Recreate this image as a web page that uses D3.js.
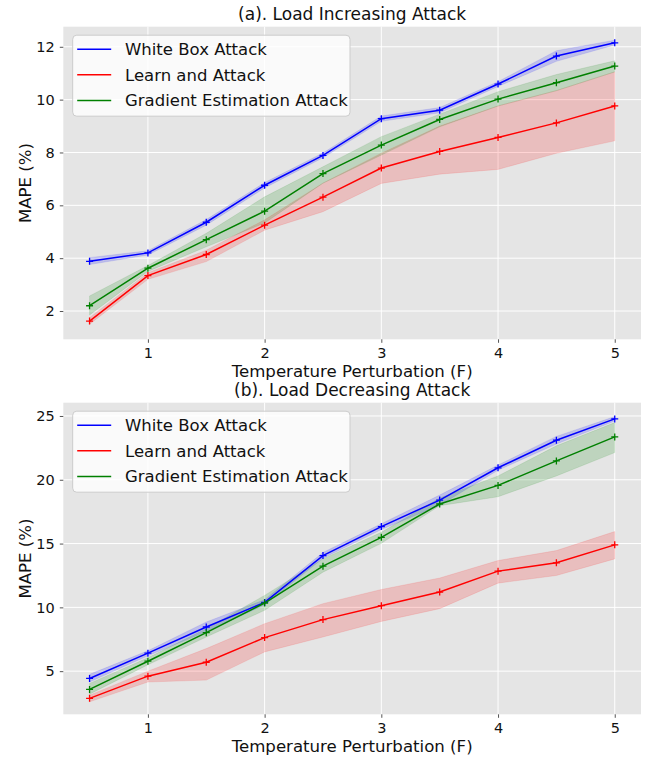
<!DOCTYPE html>
<html><head><meta charset="utf-8">
<script src="https://cdn.jsdelivr.net/npm/d3@7"></script>
<style>body{margin:0;background:#fff}svg{display:block}text{font-family:"DejaVu Sans",sans-serif}</style>
</head><body>
<svg id="c" width="657" height="761"></svg>
<script>
const xs = [0.5, 1, 1.5, 2, 2.5, 3, 3.5, 4, 4.5, 5];
const xTicks = [1, 2, 3, 4, 5];
const seriesNames = ["White Box Attack", "Learn and Attack", "Gradient Estimation Attack"];

// (a) Load Increasing Attack
const wbA    = [3.88, 4.20, 5.36, 6.76, 7.89, 9.28, 9.60, 10.59, 11.65, 12.15];
const wbA_lo = [3.76, 4.12, 5.25, 6.66, 7.80, 9.18, 9.50, 10.50, 11.45, 12.07];
const wbA_hi = [4.02, 4.28, 5.46, 6.86, 7.98, 9.38, 9.70, 10.68, 11.85, 12.25];
const laA    = [1.62, 3.34, 4.14, 5.25, 6.31, 7.41, 8.04, 8.57, 9.12, 9.76];
const laA_lo = [1.50, 3.20, 3.87, 5.06, 5.76, 6.83, 7.18, 7.36, 7.97, 8.44];
const laA_hi = [1.75, 3.45, 4.30, 5.45, 6.84, 7.97, 9.00, 9.76, 10.34, 11.05];
const geA    = [2.20, 3.62, 4.70, 5.78, 7.20, 8.28, 9.25, 10.02, 10.64, 11.27];
const geA_lo = [1.85, 3.50, 4.43, 5.33, 6.84, 7.90, 8.97, 9.76, 10.34, 11.05];
const geA_hi = [2.57, 3.72, 4.94, 6.32, 7.46, 8.60, 9.45, 10.30, 10.95, 11.47];
const yTicksA = [2, 4, 6, 8, 10, 12];

// (b) Load Decreasing Attack
const wbB    = [4.43, 6.41, 8.46, 10.39, 14.06, 16.33, 18.41, 20.94, 23.10, 24.77];
const wbB_lo = [4.15, 6.20, 8.10, 10.20, 13.85, 16.10, 18.00, 20.75, 22.80, 24.60];
const wbB_hi = [4.75, 6.60, 8.85, 10.60, 14.30, 16.55, 18.80, 21.15, 23.40, 24.95];
const laB    = [2.87, 4.61, 5.70, 7.63, 9.04, 10.13, 11.20, 12.84, 13.49, 14.90];
const laB_lo = [2.60, 4.15, 4.30, 6.51, 7.68, 8.90, 9.90, 11.90, 12.50, 13.80];
const laB_hi = [3.12, 5.00, 6.77, 8.72, 10.29, 11.40, 12.30, 13.67, 14.45, 15.94];
const geB    = [3.57, 5.78, 8.02, 10.34, 13.23, 15.49, 18.10, 19.56, 21.48, 23.36];
const geB_lo = [3.20, 5.50, 7.68, 9.77, 12.76, 15.02, 17.97, 18.67, 20.30, 22.13];
const geB_hi = [4.04, 6.05, 8.33, 10.94, 13.80, 15.88, 18.57, 20.30, 22.66, 24.48];
const yTicksB = [5, 10, 15, 20, 25];

const colors = ["#0000ff", "#ff0000", "#008000"];
const svg = d3.select("#c");

function panel(cfg) {
  const L = 63.3, R = 641;
  const x = d3.scaleLinear().domain([0.275, 5.225]).range([L, R]);
  const y = d3.scaleLinear().domain(cfg.ydom).range([cfg.bottom, cfg.top]);
  const g = svg.append("g");
  g.append("rect").attr("x", L).attr("y", cfg.top).attr("width", R - L).attr("height", cfg.bottom - cfg.top).attr("fill", "#e5e5e5");
  // grid
  g.selectAll(".gx").data(xTicks).join("line").attr("x1", d => x(d)).attr("x2", d => x(d))
    .attr("y1", cfg.top).attr("y2", cfg.bottom).attr("stroke", "#fff").attr("stroke-width", 1);
  g.selectAll(".gy").data(cfg.yTicks).join("line").attr("y1", d => y(d)).attr("y2", d => y(d))
    .attr("x1", L).attr("x2", R).attr("stroke", "#fff").attr("stroke-width", 1);
  // axes
  const ax = g.append("g").attr("transform", `translate(0,${cfg.bottom})`)
    .call(d3.axisBottom(x).tickValues(xTicks).tickFormat(d3.format("d")).tickSize(3.5).tickPadding(4.5));
  const ay = g.append("g").attr("transform", `translate(${L},0)`)
    .call(d3.axisLeft(y).tickValues(cfg.yTicks).tickFormat(d3.format("d")).tickSize(3.5).tickPadding(5));
  [ax, ay].forEach(a => {
    a.select(".domain").remove();
    a.selectAll(".tick line").attr("stroke", "#555");
    a.selectAll(".tick text").attr("fill", "#111").style("font-size", "14.5px").style("font-family", "DejaVu Sans");
  });
  // bands & lines
  const area = d3.area().x((d, i) => x(xs[i])).y0(d => y(d[0])).y1(d => y(d[1]));
  const line = d3.line().x((d, i) => x(xs[i])).y(d => y(d));
  cfg.series.forEach((s, k) => {
    const band = s.lo.map((v, i) => [v, s.hi[i]]);
    g.append("path").attr("d", area(band)).attr("fill", colors[k]).attr("fill-opacity", 0.17).attr("stroke", colors[k]).attr("stroke-opacity", 0.1);
  });
  cfg.series.forEach((s, k) => {
    g.append("path").attr("d", line(s.mean)).attr("fill", "none").attr("stroke", colors[k]).attr("stroke-width", 1.5);
    g.selectAll(null).data(s.mean).join("path")
      .attr("d", (d, i) => { const cx = x(xs[i]), cy = y(d), r = 3.5; return `M${cx - r},${cy}H${cx + r}M${cx},${cy - r}V${cy + r}`; })
      .attr("stroke", colors[k]).attr("stroke-width", 1.3);
  });
  // title & labels
  g.append("text").attr("x", (L + R) / 2).attr("y", cfg.top - 7).attr("text-anchor", "middle")
    .style("font-size", "17px").attr("fill", "#111").text(cfg.title);
  g.append("text").attr("x", (L + R) / 2).attr("y", cfg.bottom + 38).attr("text-anchor", "middle")
    .style("font-size", "16.6px").attr("fill", "#111").text("Temperature Perturbation (F)");
  g.append("text").attr("transform", `translate(31,${(cfg.top + cfg.bottom) / 2}) rotate(-90)`).attr("text-anchor", "middle")
    .style("font-size", "16.6px").attr("fill", "#111").text("MAPE (%)");
  // legend
  const lg = g.append("g").attr("transform", `translate(72.7,${cfg.top + 8.5})`);
  lg.append("rect").attr("width", 277.3).attr("height", 81).attr("rx", 4).attr("fill", "#ffffff").attr("fill-opacity", 0.8)
    .attr("stroke", "#cccccc").attr("stroke-width", 1);
  seriesNames.forEach((n, k) => {
    const cy = 14 + k * 25.6;
    lg.append("line").attr("x1", 4.5).attr("x2", 38.5).attr("y1", cy).attr("y2", cy).attr("stroke", colors[k]).attr("stroke-width", 1.5);
    lg.append("text").attr("x", 52.3).attr("y", cy).attr("dy", "0.36em").style("font-size", "16.5px").attr("fill", "#111").text(n);
  });
}

panel({ top: 26.7, bottom: 339.3, ydom: [0.93, 12.76], yTicks: yTicksA, title: "(a). Load Increasing Attack",
  series: [{ mean: wbA, lo: wbA_lo, hi: wbA_hi }, { mean: laA, lo: laA_lo, hi: laA_hi }, { mean: geA, lo: geA_lo, hi: geA_hi }] });
panel({ top: 402.7, bottom: 714.3, ydom: [1.62, 26.04], yTicks: yTicksB, title: "(b). Load Decreasing Attack",
  series: [{ mean: wbB, lo: wbB_lo, hi: wbB_hi }, { mean: laB, lo: laB_lo, hi: laB_hi }, { mean: geB, lo: geB_lo, hi: geB_hi }] });
</script>
</body></html>
